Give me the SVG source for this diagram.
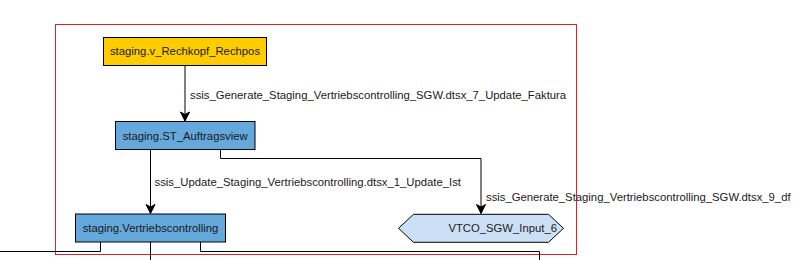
<svg xmlns="http://www.w3.org/2000/svg" width="801" height="260" viewBox="0 0 801 260">
<style>
text{font-family:"Liberation Sans",Arial,sans-serif;font-size:11.3px;fill:#1a1a1a}
.node{stroke:#000;stroke-width:1}
.edge{fill:none;stroke:#000;stroke-width:1}
</style>
<defs>
<marker id="arr" markerUnits="userSpaceOnUse" markerWidth="12" markerHeight="12" viewBox="0 0 12 12" refX="10" refY="6" orient="auto">
<path d="M1,1.5 L10,6 L1,10.5 L3.5,6 Z" fill="#000" stroke="#000" stroke-width="1"/>
</marker>
</defs>
<rect x="55.5" y="24.5" width="521" height="230" fill="none" stroke="#e0202a" stroke-width="1"/>
<g id="connectors">
<path class="edge" d="M185,65 V121" marker-end="url(#arr)"/>
<path class="edge" d="M150.5,149.5 V213.5" marker-end="url(#arr)"/>
<path class="edge" d="M220.5,149.5 V158.5 H481 V213.5" marker-end="url(#arr)"/>
<path class="edge" d="M100.5,242 V251.5 H0"/>
<path class="edge" d="M150.5,242 V260"/>
<path class="edge" d="M200.5,242 V251.5 H539.5 V260"/>
<text x="190" y="99">ssis_Generate_Staging_Vertriebscontrolling_SGW.dtsx_7_Update_Faktura</text>
<text x="154.5" y="185.5">ssis_Update_Staging_Vertriebscontrolling.dtsx_1_Update_Ist</text>
<text x="486" y="200.5">ssis_Generate_Staging_Vertriebscontrolling_SGW.dtsx_9_df</text>
</g>
<g id="n_rechkopf">
<rect class="node" x="103.5" y="37.5" width="163" height="28" fill="#ffcc00"/>
<text x="185" y="55" text-anchor="middle">staging.v_Rechkopf_Rechpos</text>
</g>
<g id="n_auftragsview">
<rect class="node" x="115.5" y="121.5" width="139.5" height="28" fill="#64a8dc"/>
<text x="185.2" y="139.5" text-anchor="middle">staging.ST_Auftragsview</text>
</g>
<g id="n_vertriebscontrolling">
<rect class="node" x="75.5" y="214" width="150" height="28" fill="#64a8dc"/>
<text x="150.5" y="232" text-anchor="middle">staging.Vertriebscontrolling</text>
</g>
<g id="n_vtco">
<path class="node" d="M398.5,228.3 L413.5,214.3 H548.5 L563.5,228.3 L548.5,242.3 H413.5 Z" fill="#cce0f5"/>
<text x="557" y="232" text-anchor="end">VTCO_SGW_Input_6</text>
</g>
</svg>
